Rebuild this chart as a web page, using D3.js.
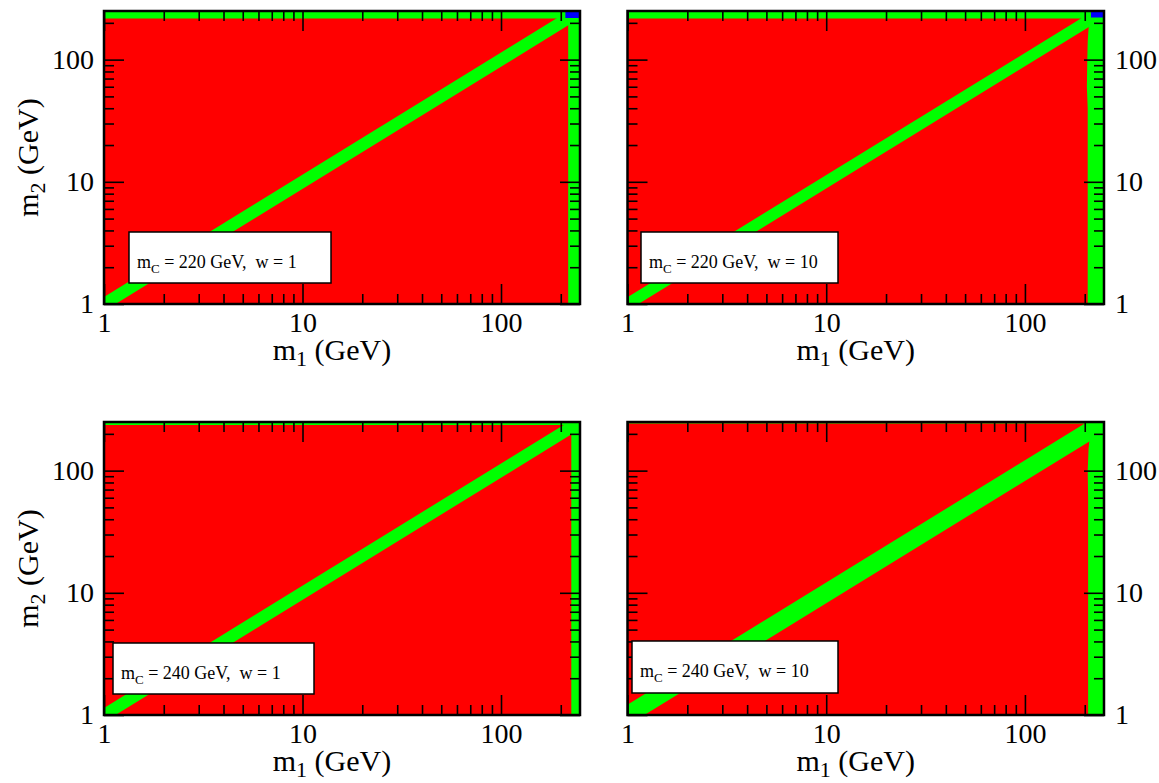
<!DOCTYPE html>
<html>
<head>
<meta charset="utf-8">
<script src="https://cdn.jsdelivr.net/npm/d3@7"></script>
<style>
  body { margin: 0; background: #fff; }
  svg { display: block; }
</style>
</head>
<body>
<script>
// panel parameters (mC in GeV, w)
const mC = [220, 220, 240, 240];
const wVal = [1, 10, 1, 10];

// half width of the m1 = m2 green band, in decades
const diagHalf = [0.058, 0.055, 0.058, 0.085];

// left edge of the vertical green band: [m2, m1] points
const vEdges = [
  [[1, 218], [250, 218]],
  [[1, 207], [40, 207], [60, 205], [100, 206], [140, 207], [180, 209], [220, 213], [250, 215]],
  [[1, 226], [250, 226]],
  [[1, 208], [60, 208], [100, 207], [150, 209], [190, 212], [230, 218], [250, 221]]
];

// lower edge (m2) of the top green band
const topStart = [217, 217, 236, 243];

// blue corner [m1 min, m2 min]
const blueCorner = [[211, 219], [215, 221], null, [244, 247]];

const majorTicks = [1, 10, 100];
const minorTicks = [2, 3, 4, 5, 6, 7, 8, 9, 20, 30, 40, 50, 60, 70, 80, 90, 200];
const domain = [1, 250];

const boxes = [
  { x0: 104, x1: 580, y0: 11, y1: 304, labelsLeft: true, legend: [129, 232, 202, 51] },
  { x0: 627.5, x1: 1104, y0: 11, y1: 304, labelsLeft: false, legend: [641, 232, 197, 51] },
  { x0: 104, x1: 580, y0: 422, y1: 715, labelsLeft: true, legend: [113, 643, 201, 51] },
  { x0: 627.5, x1: 1104, y0: 422, y1: 715, labelsLeft: false, legend: [632, 641, 206, 52] }
];

const font = "'Liberation Serif', 'Times New Roman', serif";
const RED = '#ff0000', GREEN = '#00ff00', BLUE = '#0000ff';

const svg = d3.select('body').append('svg')
  .attr('width', 1159)
  .attr('height', 783);

boxes.forEach((p, i) => {
  const x = d3.scaleLog().domain(domain).range([p.x0, p.x1]);
  const y = d3.scaleLog().domain(domain).range([p.y1, p.y0]);
  const line = d3.line().x(d => x(d[0])).y(d => y(d[1]));

  svg.append('clipPath').attr('id', 'clip' + i)
    .append('rect')
    .attr('x', p.x0).attr('y', p.y0)
    .attr('width', p.x1 - p.x0).attr('height', p.y1 - p.y0);

  const plot = svg.append('g').attr('clip-path', `url(#clip${i})`);

  plot.append('rect')
    .attr('x', p.x0).attr('y', p.y0)
    .attr('width', p.x1 - p.x0).attr('height', p.y1 - p.y0)
    .attr('fill', RED);

  // diagonal band
  const k = Math.pow(10, diagHalf[i]);
  plot.append('path')
    .attr('d', line([[0.5, 0.5 * k], [400, 400 * k], [400, 400 / k], [0.5, 0.5 / k]]) + 'Z')
    .attr('fill', GREEN);

  // vertical band (m1 close to mC)
  const ve = vEdges[i].map(d => [d[1], d[0]]);
  const vpts = [[ve[0][0], 0.5]].concat(ve, [[ve[ve.length - 1][0], 400], [400, 400], [400, 0.5]]);
  plot.append('path')
    .attr('d', line(vpts) + 'Z')
    .attr('fill', GREEN);

  // top band
  plot.append('path')
    .attr('d', line([[0.5, topStart[i]], [400, topStart[i]], [400, 400], [0.5, 400]]) + 'Z')
    .attr('fill', GREEN);

  if (blueCorner[i]) {
    const b = blueCorner[i];
    plot.append('path')
      .attr('d', line([[b[0], b[1]], [400, b[1]], [400, 400], [b[0], 400]]) + 'Z')
      .attr('fill', BLUE);
  }

  // axes: ticks inward on all four sides
  const fmt = d3.format('d');
  const addAxis = (axis, tx, ty, labels) => {
    const g = svg.append('g')
      .attr('transform', `translate(${tx},${ty})`)
      .call(axis);
    g.select('.domain').remove();
    g.selectAll('line').attr('stroke', '#000').attr('stroke-width', 1.6);
    g.attr('font-family', font).attr('font-size', 28);
    g.selectAll('text').attr('fill', '#000');
    if (!labels) g.selectAll('text').remove();
    return g;
  };

  addAxis(d3.axisBottom(x).tickValues(majorTicks).tickSize(-20).tickPadding(8).tickFormat(fmt), 0, p.y1, true);
  addAxis(d3.axisBottom(x).tickValues(minorTicks).tickSize(-10), 0, p.y1, false);
  addAxis(d3.axisTop(x).tickValues(majorTicks).tickSize(-20), 0, p.y0, false);
  addAxis(d3.axisTop(x).tickValues(minorTicks).tickSize(-10), 0, p.y0, false);

  addAxis(d3.axisLeft(y).tickValues(majorTicks).tickSize(-20).tickPadding(10).tickFormat(fmt), p.x0, 0, p.labelsLeft);
  addAxis(d3.axisLeft(y).tickValues(minorTicks).tickSize(-10), p.x0, 0, false);
  addAxis(d3.axisRight(y).tickValues(majorTicks).tickSize(-20).tickPadding(11).tickFormat(fmt), p.x1, 0, !p.labelsLeft);
  addAxis(d3.axisRight(y).tickValues(minorTicks).tickSize(-10), p.x1, 0, false);

  // frame
  svg.append('rect')
    .attr('x', p.x0).attr('y', p.y0)
    .attr('width', p.x1 - p.x0).attr('height', p.y1 - p.y0)
    .attr('fill', 'none')
    .attr('stroke', '#000')
    .attr('stroke-width', 2.5);

  // legend box
  const lg = p.legend;
  svg.append('rect')
    .attr('x', lg[0]).attr('y', lg[1])
    .attr('width', lg[2]).attr('height', lg[3])
    .attr('fill', '#fff')
    .attr('stroke', '#000')
    .attr('stroke-width', 1.5);
  const lt = svg.append('text')
    .attr('x', lg[0] + 8)
    .attr('y', lg[1] + 36)
    .attr('font-family', font)
    .attr('font-size', 18)
    .style('white-space', 'pre');
  lt.append('tspan').text('m');
  lt.append('tspan').attr('dy', 5).attr('font-size', 13).text('C');
  lt.append('tspan').attr('dy', -5).text(` = ${mC[i]} GeV,  w = ${wVal[i]}`);

  // x title
  const xt = svg.append('text')
    .attr('x', (p.x0 + p.x1) / 2 - 10)
    .attr('y', p.y1 + 56)
    .attr('text-anchor', 'middle')
    .attr('font-family', font)
    .attr('font-size', 30)
    .style('white-space', 'pre');
  xt.append('tspan').text('m');
  xt.append('tspan').attr('dy', 6).attr('font-size', 22).text('1');
  xt.append('tspan').attr('dy', -6).text(' (GeV)');

  // y title on left panels
  if (p.labelsLeft) {
    const cy = (p.y0 + p.y1) / 2;
    const yt = svg.append('text')
      .attr('transform', `translate(38,${cy}) rotate(-90)`)
      .attr('text-anchor', 'middle')
      .attr('font-family', font)
      .attr('font-size', 30)
      .style('white-space', 'pre');
    yt.append('tspan').text('m');
    yt.append('tspan').attr('dy', 7).attr('font-size', 22).text('2');
    yt.append('tspan').attr('dy', -7).text(' (GeV)');
  }
});
</script>
</body>
</html>
